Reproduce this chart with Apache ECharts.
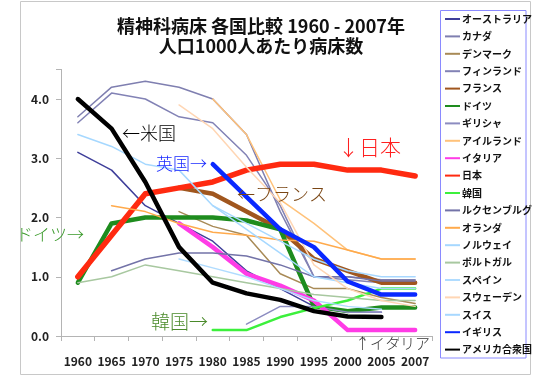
<!DOCTYPE html>
<html><head><meta charset="utf-8">
<script src="https://cdn.jsdelivr.net/npm/echarts@6/dist/echarts.min.js"></script>
<style>html,body{margin:0;padding:0;background:#fff}#c{width:533px;height:378px}</style>
</head><body><div id="c"></div>
<script>
const years = ['1960','1965','1970','1975','1980','1985','1990','1995','2000','2005','2007'];
const yTicks = [0, 1, 2, 3, 4];
const countries = ['オーストラリア','カナダ','デンマーク','フィンランド','フランス','ドイツ','ギリシャ','アイルランド','イタリア','日本','韓国','ルクセンブルグ','オランダ','ノルウェイ','ポルトガル','スペイン','スウェーデン','スイス','イギリス','アメリカ合衆国'];
const australia   = [3.1, 2.8, 2.2, 1.9, 1.6, 1.1, 0.8, 0.5, 0.4, 0.4, null];
const canada      = [3.7, 4.2, 4.3, 4.2, 4.0, 3.4, 2.1, 1.0, 1.0, 0.95, 0.95];
const denmark     = [null, null, null, 2.1, 1.85, 1.7, 1.05, 0.8, 0.8, 0.65, 0.55];
const finland     = [3.6, 4.1, 4.0, 3.7, 3.6, 3.05, 2.2, 1.0, 0.95, 0.9, 0.9];
const france      = [null, null, null, 2.5, 2.4, 2.1, 1.8, 1.3, 1.1, 0.9, 0.9];
const germany     = [0.9, 1.9, 2.0, 2.0, 2.0, 1.95, 1.8, 0.5, 0.42, 0.48, 0.48];
const greece      = [null, null, null, null, null, 0.2, 0.5, 0.5, 0.4, 0.4, null];
const ireland     = [null, null, null, null, 4.0, 3.4, 2.3, 1.9, 1.45, 1.3, 1.3];
const italy       = [null, null, null, 1.9, 1.5, 1.05, 0.85, 0.6, 0.1, 0.1, 0.1];
const japan       = [1.0, 1.7, 2.4, 2.5, 2.6, 2.8, 2.9, 2.9, 2.8, 2.8, 2.7];
const korea       = [null, null, null, null, 0.1, 0.1, 0.32, 0.47, 0.6, 0.8, 0.8];
const luxembourg  = [null, 1.1, 1.3, 1.4, 1.4, 1.35, 1.2, 1.0, 1.0, 0.93, 0.93];
const netherlands = [null, 2.2, 2.1, 1.9, 1.75, 1.7, 1.62, 1.6, 1.45, 1.3, 1.3];
const norway      = [3.4, 3.2, 2.9, 2.8, 2.2, 1.8, 1.4, 1.0, 0.9, 0.8, 0.8];
const portugal    = [0.9, 1.0, 1.2, 1.1, 1.0, 0.9, 0.8, 0.7, 0.65, 0.6, 0.6];
const spain       = [null, null, null, 1.3, 1.15, 1.0, 0.8, 0.6, 0.5, 0.45, null];
const sweden      = [null, null, null, 3.9, 3.5, 2.85, 2.25, 1.2, 0.8, 0.6, 0.5];
const switzerland = [null, null, null, null, 2.2, 1.9, 1.6, 1.3, 1.1, 1.0, 1.0];
const uk          = [null, null, null, null, 2.9, 2.35, 1.8, 1.5, 0.92, 0.7, 0.7];
const usa         = [4.0, 3.5, 2.6, 1.5, 0.9, 0.72, 0.61, 0.42, 0.33, 0.32, null];

const seriesData = [australia, canada, denmark, finland, france, germany, greece, ireland, italy, japan, korea, luxembourg, netherlands, norway, portugal, spain, sweden, switzerland, uk, usa];
const colors = ['#3f3f9a','#7f7fb0','#a88a56','#8282b5','#a0561e','#1e8c1e','#8c8cc0','#ffc27a','#ff3ce6','#ff2a10','#3cf03c','#7373a8','#ffaa4c','#a6d8ff','#a8c8a0','#b0dcff','#ffd6b4','#a8d8ff','#0a28ff','#000000'];
const widths = [1.5,1.5,1.5,1.5,4.5,4.5,1.5,1.5,4.5,5.5,2.5,1.5,1.5,1.5,1.5,1.5,1.5,1.5,4.5,4.5];

const FONT = '"Noto Sans CJK JP", "Noto Sans", sans-serif';
const chart = echarts.init(document.getElementById('c'), null, {renderer: 'canvas'});
const series = countries.map((name, i) => ({
  name: name, type: 'line', data: seriesData[i], symbol: 'none',
  connectNulls: false, color: colors[i],
  lineStyle: {width: widths[i], color: colors[i], cap: 'round', join: 'round'},
  emphasis: {disabled: true}
}));

function ann(text, x, y, color, size) {
  return {type: 'text', left: x, top: y, z: 100,
    style: {text: text, fill: color, font: '300 ' + size + 'px ' + FONT}};
}

chart.setOption({
  animation: false,
  color: colors,
  title: {
    text: '精神科病床 各国比較 1960 - 2007年\n人口1000人あたり病床数',
    left: 256, top: 11, textAlign: 'center',
    textStyle: {fontFamily: FONT, fontSize: 18, lineHeight: 20, fontWeight: 'bold', color: '#111'}
  },
  grid: {left: 61, right: 101, top: 69.4, bottom: 42, containLabel: false},
  xAxis: {
    type: 'category', data: years, boundaryGap: true,
    axisLine: {lineStyle: {color: '#b4b4b4', width: 1}},
    axisTick: {show: true, alignWithLabel: false, length: 5, lineStyle: {color: '#b4b4b4'}},
    axisLabel: {margin: 19, fontFamily: FONT, fontSize: 12, fontWeight: 'bold', color: '#222', interval: 0}
  },
  yAxis: {
    type: 'value', min: 0, max: 4.5, interval: 1,
    axisLine: {show: true, lineStyle: {color: '#b4b4b4'}},
    axisTick: {show: true, length: 5, lineStyle: {color: '#b4b4b4'}},
    splitLine: {show: false},
    axisLabel: {margin: 12, fontFamily: FONT, fontSize: 12, fontWeight: 'bold', color: '#222',
      formatter: v => (yTicks.indexOf(v) >= 0 ? v.toFixed(1) : '')}
  },
  legend: {
    orient: 'vertical', left: 445, top: 14, padding: 0,
    itemWidth: 15, itemHeight: 10, itemGap: 7.4,
    icon: 'path://M0,4 L15,4 L15,6 L0,6 Z',
    textStyle: {fontFamily: FONT, fontSize: 10, fontWeight: 'bold', color: '#111', padding: [0,0,0,-3]},
    data: countries
  },
  graphic: [
    {type: 'rect', shape: {x: 20.5, y: 1.5, width: 510, height: 373}, style: {fill: 'none', stroke: '#c8c8c8', lineWidth: 1}, z: -1},
    {type: 'rect', shape: {x: 440.5, y: 10.5, width: 85.5, height: 347.5}, style: {fill: 'none', stroke: '#8a8aff', lineWidth: 1}, z: -1},
    ann('←米国', 122, 124, '#000', 18),
    ann('英国→', 156, 155, '#1a2aff', 17),
    ann('↓日本', 338, 137, '#ff2020', 21),
    ann('←フランス', 237, 185, '#7a4614', 18),
    ann('ドイツ→', 16, 226, '#3a9a2a', 17),
    ann('韓国→', 151, 312, '#4a8a2a', 19),
    ann('↑イタリア', 355, 336, '#333', 15)
  ],
  series: series
});
</script></body></html>
